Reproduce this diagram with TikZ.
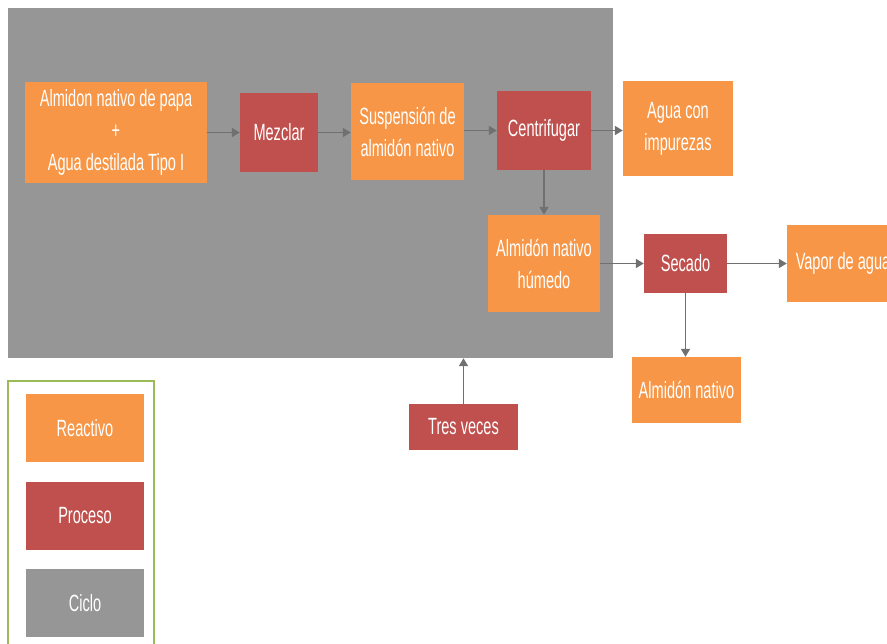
\documentclass[tikz,border=0pt]{standalone}
\usepackage{fontspec}
\newfontfamily\flowfont{Liberation Sans}[FakeStretch=0.62]
\usetikzlibrary{arrows.meta}
\definecolor{reactivo}{HTML}{F79646}
\definecolor{proceso}{HTML}{C0504D}
\definecolor{ciclo}{HTML}{969696}
\definecolor{flecha}{HTML}{707070}
\definecolor{marco}{HTML}{9BBB59}
\begin{document}
\begin{tikzpicture}[x=1pt,y=-1pt,
  base/.style={draw=none,inner sep=2pt,align=center,text=white,
    font=\flowfont\fontsize{23.5}{32}\selectfont},
  reac/.style={base,fill=reactivo},
  proc/.style={base,fill=proceso},
  cicl/.style={base,fill=ciclo},
  flow/.style={draw=flecha,line width=1.8pt,-{Triangle[length=8pt,width=9pt]}}]
\useasboundingbox (0,0) rectangle (887,644);
\clip (0,0) rectangle (887,644);

% cycle area
\node[cicl,minimum width=605pt,minimum height=350pt] (cyc) at (310.5,183) {};

% process nodes
\node[reac,minimum width=182pt,minimum height=101pt] (mix) at (116,132.5)
  {Almidon nativo de papa\\+\\Agua destilada Tipo I};
\node[proc,minimum width=78pt,minimum height=79pt] (mez) at (279,132.5) {Mezclar};
\node[reac,minimum width=113pt,minimum height=97pt] (sus) at (407.5,131.5)
  {Suspensión de\\almidón nativo};
\node[proc,minimum width=94pt,minimum height=79pt] (cen) at (544,130.5) {Centrifugar};
\node[reac,minimum width=110pt,minimum height=95pt] (agu) at (678,128.5)
  {Agua con\\impurezas};
\node[reac,minimum width=112pt,minimum height=97pt] (hum) at (544,263.5)
  {Almidón nativo\\húmedo};
\node[proc,minimum width=83pt,minimum height=59pt] (sec) at (685.5,263.5) {Secado};
\node[reac,minimum width=112pt,minimum height=77pt] (vap) at (843,263.5) {Vapor de agua};
\node[reac,minimum width=109pt,minimum height=66pt] (aln) at (686.5,390) {Almidón nativo};
\node[proc,minimum width=109pt,minimum height=46pt] (tres) at (463.5,427) {Tres veces};

% connectors
\draw[flow] (mix.east) -- (mez.west);
\draw[flow] (mez.east) -- (sus.west |- mez.east);
\draw[flow] (sus.east |- cen.west) -- (cen.west);
\draw[flow] (cen.east) -- (agu.west |- cen.east);
\draw[flow] (cen.south) -- (hum.north);
\draw[flow] (hum.east |- sec.west) -- (sec.west);
\draw[flow] (sec.east) -- (vap.west);
\draw[flow] (sec.south) -- (sec.south |- aln.north);
\draw[flow] (tres.north) -- (tres.north |- cyc.south);

% legend
\node[draw=marco,line width=1.5pt,minimum width=146pt,minimum height=280pt] (ley) at (81,521) {};
\node[reac,minimum width=118pt,minimum height=68pt] (lr) at (85,428) {Reactivo};
\node[proc,minimum width=118pt,minimum height=68pt] (lp) at (85,516) {Proceso};
\node[cicl,minimum width=118pt,minimum height=68pt] (lc) at (85,603) {Ciclo};
\end{tikzpicture}
\end{document}
